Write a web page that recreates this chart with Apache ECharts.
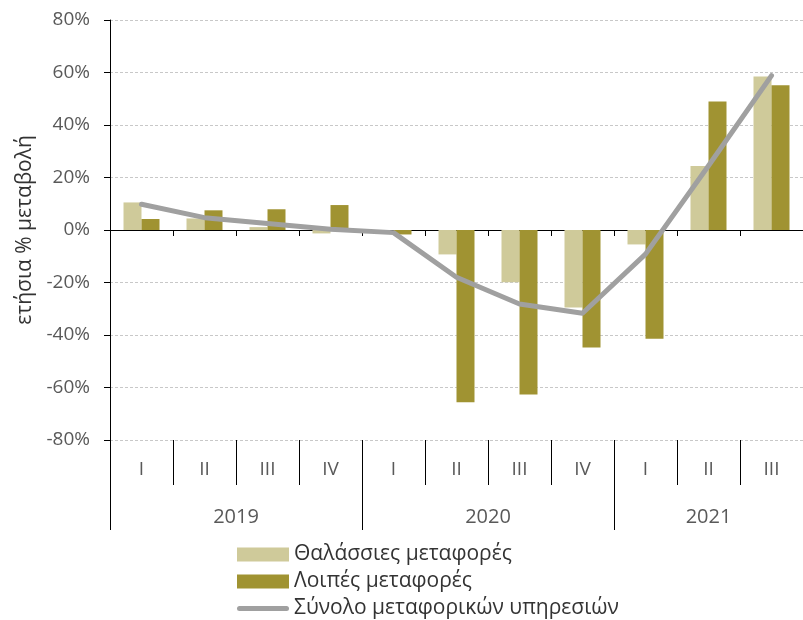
<!DOCTYPE html>
<html>
<head>
<meta charset="utf-8">
<script src="https://cdn.jsdelivr.net/npm/echarts@6/dist/echarts.min.js"></script>
<style>
  html, body { margin: 0; padding: 0; background: #fff; }
  #main { width: 803px; height: 620px; }
</style>
</head>
<body>
<div id="main"></div>
<script>
// quarters and years
var quarters = ['I', 'II', 'III', 'IV', 'I', 'II', 'III', 'IV', 'I', 'II', 'III'];
var years = ['2019', '2020', '2021'];
var yearSpan = [4, 4, 3];

// annual % change
var seaTransport = [10.5, 4.4, 1.1, -1.3, 0, -9.3, -19.9, -29.5, -5.5, 24.4, 58.5];
var otherTransport = [4.2, 7.5, 7.9, 9.5, -1.7, -65.6, -62.7, -44.8, -41.4, 49.0, 55.1];
var totalTransport = [9.8, 4.7, 2.5, 0.3, -1.0, -18.0, -28.2, -31.7, -9.2, 24.5, 58.8];

var yTicks = [-80, -60, -40, -20, 0, 20, 40, 60, 80];

var seriesNames = ['Θαλάσσιες μεταφορές', 'Λοιπές μεταφορές', 'Σύνολο μεταφορικών υπηρεσιών'];
var yName = 'ετήσια % μεταβολή';

var FONT = 'Open Sans';
var catW = 693 / quarters.length;

// year labels: which category holds the label, and the year boundaries
var yearLabelAt = {};
var yearStarts = {};
var start = 0;
yearSpan.forEach(function (span, i) {
  yearStarts[start] = true;
  yearLabelAt[start + Math.floor(span / 2)] = { text: years[i], even: span % 2 === 0 };
  start += span;
});

var chart = echarts.init(document.getElementById('main'));
chart.setOption({
  animation: false,
  textStyle: { fontFamily: FONT },
  grid: { left: 110, right: 0, top: 20, bottom: 180, containLabel: false },
  legend: {
    orient: 'vertical',
    left: 232,
    top: 539,
    height: 100,
    itemWidth: 52,
    itemHeight: 14,
    itemGap: 6,
    textStyle: { fontFamily: FONT, fontSize: 21, color: '#333', padding: [0, 0, 0, 0] },
    data: [
      { name: seriesNames[0], icon: 'rect' },
      { name: seriesNames[1], icon: 'rect' },
      {
        name: seriesNames[2],
        icon: 'path://M2.5,0 L49.5,0 A2.5,2.5 0 0 1 49.5,5 L2.5,5 A2.5,2.5 0 0 1 2.5,0 Z',
        itemStyle: { color: '#a0a0a0' }
      }
    ]
  },
  xAxis: [
    {
      // quarter row
      type: 'category',
      data: quarters,
      position: 'bottom',
      axisLine: { show: false, onZero: false },
      axisTick: { show: true, interval: 0, length: 45, lineStyle: { color: '#000', width: 1 } },
      axisLabel: { interval: 0, margin: 20, fontSize: 19, color: '#595959' },
      splitLine: { show: false }
    },
    {
      // year row
      type: 'category',
      data: quarters,
      position: 'bottom',
      axisLine: { show: false, onZero: false },
      axisTick: {
        show: true,
        length: 90,
        interval: function (idx) { return !!yearStarts[idx]; },
        lineStyle: { color: '#000', width: 1 }
      },
      axisLabel: {
        interval: 0,
        margin: 67,
        fontSize: 20,
        color: '#595959',
        formatter: function (v, idx) {
          var y = yearLabelAt[idx];
          if (!y) return '';
          return y.even ? '{shift|' + y.text + '}' : y.text;
        },
        rich: {
          shift: { fontSize: 20, color: '#595959', fontFamily: FONT, padding: [0, catW, 0, 0] }
        }
      },
      splitLine: { show: false }
    },
    {
      // zero line
      type: 'category',
      data: quarters,
      position: 'bottom',
      axisLine: { show: true, onZero: true, lineStyle: { color: '#000', width: 1.2 } },
      axisTick: { show: true, interval: 0, length: 6, lineStyle: { color: '#000' } },
      axisLabel: { show: false },
      splitLine: { show: false }
    }
  ],
  yAxis: {
    type: 'value',
    min: yTicks[0],
    max: yTicks[yTicks.length - 1],
    interval: 20,
    name: yName,
    nameLocation: 'middle',
    nameGap: 68,
    nameTextStyle: { fontSize: 21, color: '#333', fontFamily: FONT },
    axisLine: { show: true, lineStyle: { color: '#000', width: 1 } },
    axisTick: { show: true, length: 6, lineStyle: { color: '#000' } },
    axisLabel: { fontSize: 19, color: '#595959', margin: 20, formatter: '{value}%' },
    splitLine: { show: true, lineStyle: { color: '#c8c8c8', type: [3, 2], width: 1 } }
  },
  series: [
    {
      name: seriesNames[0],
      type: 'bar',
      xAxisIndex: 0,
      barWidth: 18,
      barGap: '0%',
      itemStyle: { color: '#cfca9a' },
      data: seaTransport
    },
    {
      name: seriesNames[1],
      type: 'bar',
      xAxisIndex: 0,
      barWidth: 18,
      barGap: '0%',
      itemStyle: { color: '#a09332' },
      data: otherTransport
    },
    {
      name: seriesNames[2],
      type: 'line',
      xAxisIndex: 0,
      symbol: 'none',
      z: 5,
      lineStyle: { color: '#a0a0a0', width: 5, cap: 'round', join: 'round' },
      itemStyle: { color: '#a0a0a0' },
      data: totalTransport
    }
  ]
});
</script>
</body>
</html>
